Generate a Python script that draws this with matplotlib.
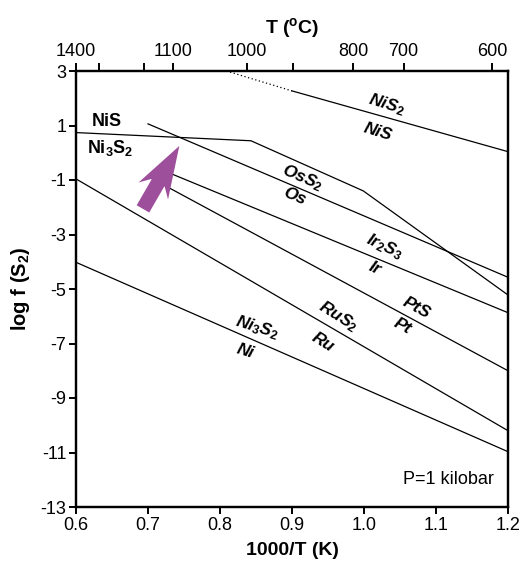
import numpy as np
import matplotlib
matplotlib.use("Agg")
import matplotlib.pyplot as plt
from matplotlib.patches import FancyArrow
from matplotlib.transforms import IdentityTransform

plt.rcParams['font.family'] = ['Liberation Sans', 'DejaVu Sans']
plt.rcParams['mathtext.fontset'] = 'custom'
plt.rcParams['mathtext.rm'] = 'Liberation Sans:bold'
plt.rcParams['mathtext.it'] = 'Liberation Sans:bold'
plt.rcParams['mathtext.bf'] = 'Liberation Sans:bold'

# ---------------- data (1000/T in K^-1, log fS2) ----------------
nis2_dotted_x = [0.809, 0.900]
nis2_dotted_y = [3.00, 2.27]
nis2_x = [0.900, 1.200]
nis2_y = [2.27, 0.04]

nis_x = [0.600, 0.843, 0.999, 1.200]
nis_y = [0.74, 0.44, -1.40, -5.22]

os_x = [0.700, 1.200]
os_y = [1.06, -4.57]

ir_x = [0.735, 1.200]
ir_y = [-0.80, -5.87]

pt_x = [0.700, 1.200]
pt_y = [-0.87, -8.00]

ru_x = [0.600, 1.200]
ru_y = [-0.96, -10.20]

ni_x = [0.600, 1.200]
ni_y = [-4.02, -10.97]

x_ticks = [0.6, 0.7, 0.8, 0.9, 1.0, 1.1, 1.2]
x_ticklabels = ['0.6', '0.7', '0.8', '0.9', '1.0', '1.1', '1.2']
y_ticks = [3, 1, -1, -3, -5, -7, -9, -11, -13]
y_ticklabels = ['3', '1', '-1', '-3', '-5', '-7', '-9', '-11', '-13']
top_ticks = [0.600, 0.632, 0.695, 0.735, 0.8375, 0.902, 0.985, 1.055, 1.178]
top_ticklabels = ['1400', '', '', '1100', '1000', '', '800', '700', '600']

# arrow (tail -> tip) in data coords
arrow_tail = (0.693, -2.06)
arrow_tip = (0.7435, 0.25)

# labels: (text, x, y, line used for rotation, fixed rotation or None)
labels = [
    ('NiS$_2$', 1.0315, 1.755, (nis2_x, nis2_y), -17),
    ('NiS', 1.019, 0.78, (nis2_x, nis2_y), -17),
    ('OsS$_2$', 0.915, -0.93, (os_x, os_y), None),
    ('Os', 0.904, -1.60, (os_x, os_y), None),
    ('Ir$_2$S$_3$', 1.029, -3.44, (ir_x, ir_y), -25),
    ('Ir', 1.015, -4.26, (ir_x, ir_y), -25),
    ('PtS', 1.073, -5.68, (pt_x, pt_y), None),
    ('Pt', 1.054, -6.37, (pt_x, pt_y), None),
    ('RuS$_2$', 0.964, -6.00, (ru_x, ru_y), -32),
    ('Ru', 0.943, -6.96, (ru_x, ru_y), -32),
    ('Ni$_3$S$_2$', 0.851, -6.42, (ni_x, ni_y), -17),
    ('Ni', 0.835, -7.28, (ni_x, ni_y), -17),
]

# ---------------- figure ----------------
W, H = 523, 568
fig = plt.figure(figsize=(W / 100, H / 100), dpi=100)
ax = fig.add_axes([76 / W, 1 - 507 / H, 432 / W, 436 / H])
ax.set_xlim(0.6, 1.2)
ax.set_ylim(-13, 3)

lw = 0.9
ax.plot(nis2_dotted_x, nis2_dotted_y, color='black', lw=lw, ls=(0, (1, 2)))
ax.plot(nis2_x, nis2_y, color='black', lw=lw)
ax.plot(nis_x, nis_y, color='black', lw=lw)
ax.plot(os_x, os_y, color='black', lw=lw)
ax.plot(ir_x, ir_y, color='black', lw=lw)
ax.plot(pt_x, pt_y, color='black', lw=lw)
ax.plot(ru_x, ru_y, color='black', lw=lw)
ax.plot(ni_x, ni_y, color='black', lw=lw)

for s in ax.spines.values():
    s.set_linewidth(1.6)

ax.set_xticks(x_ticks)
ax.set_xticklabels(x_ticklabels)
ax.set_yticks(y_ticks)
ax.set_yticklabels(y_ticklabels)
ax.tick_params(axis='both', direction='out', length=5, width=1.4, labelsize=13, pad=2)

ax.set_xlabel('1000/T (K)', fontsize=14, fontweight='bold', labelpad=6)
ax.set_ylabel('log f (S$_2$)', fontsize=14.5, fontweight='bold', labelpad=6)

top = ax.twiny()
top.set_xlim(ax.get_xlim())
top.set_xticks(top_ticks)
top.set_xticklabels(top_ticklabels)
top.tick_params(axis='x', direction='out', length=6, width=1.4, labelsize=13, pad=2)
top.set_xlabel('T ($^{o}$C)', fontsize=14, fontweight='bold', labelpad=7)
for s in top.spines.values():
    s.set_linewidth(1.6)

# top-left labels
ax.text(0.6426, 1.14, 'NiS', fontsize=13, fontweight='bold', ha='center', va='center')
ax.text(0.647, 0.18, 'Ni$_3$S$_2$', fontsize=13, fontweight='bold', ha='center', va='center')

# rotated labels along lines
def line_angle(xs, ys):
    p = ax.transData.transform(np.column_stack([xs, ys]))
    d = p[-1] - p[0]
    return np.degrees(np.arctan2(d[1], d[0]))

for txt, x, y, (lx, ly), rot in labels:
    ang = line_angle(lx, ly) if rot is None else rot
    ax.text(x, y, txt, fontsize=12.5, fontweight='bold', fontstyle='italic',
            rotation=ang, rotation_mode='anchor', ha='center', va='center')

ax.text(1.18, -11.98, 'P=1 kilobar', fontsize=13, ha='right', va='center')

# arrow drawn in pixel space
t0 = ax.transData.transform(arrow_tail)
t1 = ax.transData.transform(arrow_tip)
d = t1 - t0
arr = FancyArrow(t0[0], t0[1], d[0], d[1], width=14.5, head_width=34, head_length=52,
                 overhang=0.19, length_includes_head=True, transform=IdentityTransform(),
                 color='#9d4f9b', lw=0, zorder=5)
fig.patches.append(arr)
arr.set_figure(fig)

fig.savefig('out.png', dpi=100)
